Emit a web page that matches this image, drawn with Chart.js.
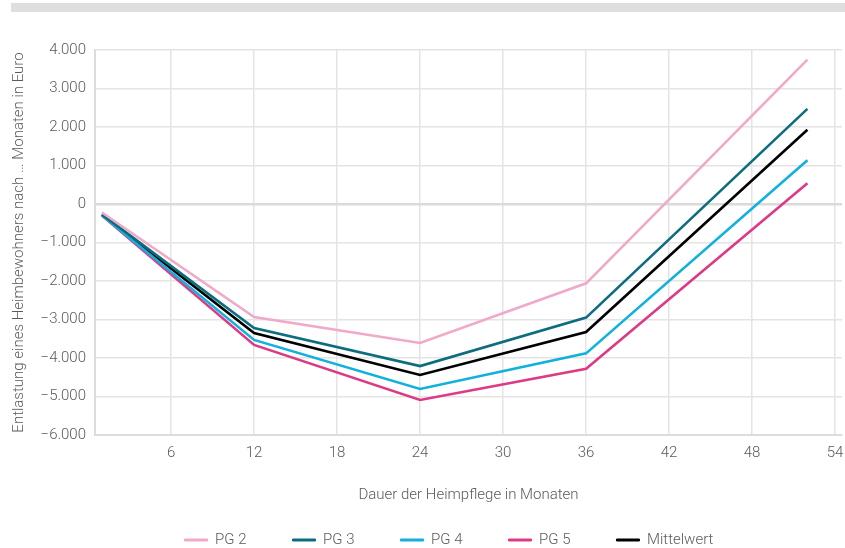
<!DOCTYPE html>
<html lang="de">
<head>
<meta charset="utf-8">
<script src="https://cdn.jsdelivr.net/npm/chart.js@4/dist/chart.umd.min.js"></script>
<style>
  html, body { margin: 0; padding: 0; background: #fff; }
  #wrap { position: relative; width: 845px; height: 548px; }
  #topbar { position: absolute; left: 11px; top: 3px; width: 834px; height: 9px; background: #dedede; }
  #c { position: absolute; left: 0; top: 0; }
</style>
</head>
<body>
<div id="wrap">
  <div id="topbar"></div>
  <canvas id="c" width="845" height="548"></canvas>
</div>
<script>
// Months at which the relief was computed
const months = [1, 12, 24, 36, 52];

// Relief per resident (Euro) by care grade
const pg2 = [-220, -2935, -3610, -2060, 3750];
const pg3 = [-270, -3220, -4210, -2950, 2470];
const pg4 = [-290, -3530, -4805, -3880, 1135];
const pg5 = [-300, -3660, -5090, -4280, 540];
const mittelwert = [-280, -3350, -4440, -3325, 1930];

const seriesNames = ['PG 2', 'PG 3', 'PG 4', 'PG 5', 'Mittelwert'];
const seriesColors = ['#f0a9c9', '#0c6d7e', '#12b0dd', '#dd3a85', '#000000'];
const seriesValues = [pg2, pg3, pg4, pg5, mittelwert];

const xTicks = [6, 12, 18, 24, 30, 36, 42, 48, 54];
const yTicks = [4000, 3000, 2000, 1000, 0, -1000, -2000, -3000, -4000, -5000, -6000];

const FONT = 'Roboto, "Open Sans", sans-serif';
const TEXT = '#5a5a5a';
const LEGEND_PAD = 46;

function fmtDe(v) {
  const abs = Math.abs(v).toLocaleString('de-DE');
  return v < 0 ? '\u2212' + abs : abs;
}

const datasets = seriesNames.map((name, i) => ({
  label: name,
  data: months.map((m, j) => ({ x: m, y: seriesValues[i][j] })),
  borderColor: seriesColors[i],
  backgroundColor: seriesColors[i],
  borderWidth: 2.6,
  pointRadius: 0,
  tension: 0,
  fill: false
}));

// Legend: wide horizontal spacing but a compact row, placed near the bottom edge
const legendPlacement = {
  id: 'legendPlacement',
  beforeLayout(chart) {
    const lg = chart.legend;
    if (lg && !lg._compact) {
      const fit = lg.fit.bind(lg);
      lg.fit = function () { fit(); this.height = 36; };
      lg._compact = true;
    }
  },
  afterLayout(chart) {
    const lg = chart.legend;
    if (!lg) return;
    lg.left += 28;
    lg.right += 28;
    lg.top = chart.height - 8 - LEGEND_PAD - 7.5;
    lg.bottom = chart.height;
  }
};

new Chart(document.getElementById('c'), {
  type: 'line',
  data: { datasets },
  plugins: [legendPlacement],
  options: {
    responsive: false,
    animation: false,
    layout: { padding: { left: 0, right: 3, top: 50, bottom: 4 } },
    plugins: {
      tooltip: { enabled: false },
      legend: {
        position: 'bottom',
        labels: {
          boxWidth: 23,
          boxHeight: 2,
          padding: LEGEND_PAD,
          color: TEXT,
          font: { family: FONT, size: 15, weight: '300' },
          generateLabels(chart) {
            return chart.data.datasets.map((ds, i) => ({
              text: ds.label,
              fillStyle: ds.borderColor,
              strokeStyle: ds.borderColor,
              lineWidth: 1,
              fontColor: TEXT,
              datasetIndex: i,
              hidden: false
            }));
          }
        }
      }
    },
    scales: {
      x: {
        type: 'linear',
        min: 0.5,
        max: 54.5,
        afterBuildTicks(scale) {
          scale.ticks = xTicks.map(v => ({ value: v }));
        },
        afterFit(scale) {
          scale.paddingRight = 0;
        },
        grid: {
          color: '#e4e4e4',
          lineWidth: 1.5,
          drawTicks: false
        },
        border: { color: '#dcdcdc', width: 2 },
        ticks: {
          color: TEXT,
          padding: 9,
          font: { family: FONT, size: 15, weight: '300' },
          callback: v => String(v)
        },
        title: {
          display: true,
          text: 'Dauer der Heimpflege in Monaten',
          color: TEXT,
          font: { family: FONT, size: 15, weight: '300' },
          padding: { top: 15, bottom: 4 }
        }
      },
      y: {
        type: 'linear',
        min: -6000,
        max: 4000,
        afterBuildTicks(scale) {
          scale.ticks = yTicks.map(v => ({ value: v }));
        },
        afterFit(scale) {
          scale.width = 95;
        },
        grid: {
          color: ctx => (ctx.tick && ctx.tick.value === 0) ? '#dadada' : '#e4e4e4',
          lineWidth: ctx => (ctx.tick && ctx.tick.value === 0) ? 2.5 : 1.5,
          drawTicks: false
        },
        border: { color: '#dcdcdc', width: 2 },
        ticks: {
          color: TEXT,
          padding: 9,
          font: { family: FONT, size: 15, weight: '300' },
          callback: v => fmtDe(v)
        },
        title: {
          display: true,
          text: 'Entlastung eines Heimbewohners nach \u2026 Monaten in Euro',
          color: TEXT,
          font: { family: FONT, size: 15, weight: '300' },
          padding: { top: 10, bottom: 10 }
        }
      }
    }
  }
});
</script>
</body>
</html>
